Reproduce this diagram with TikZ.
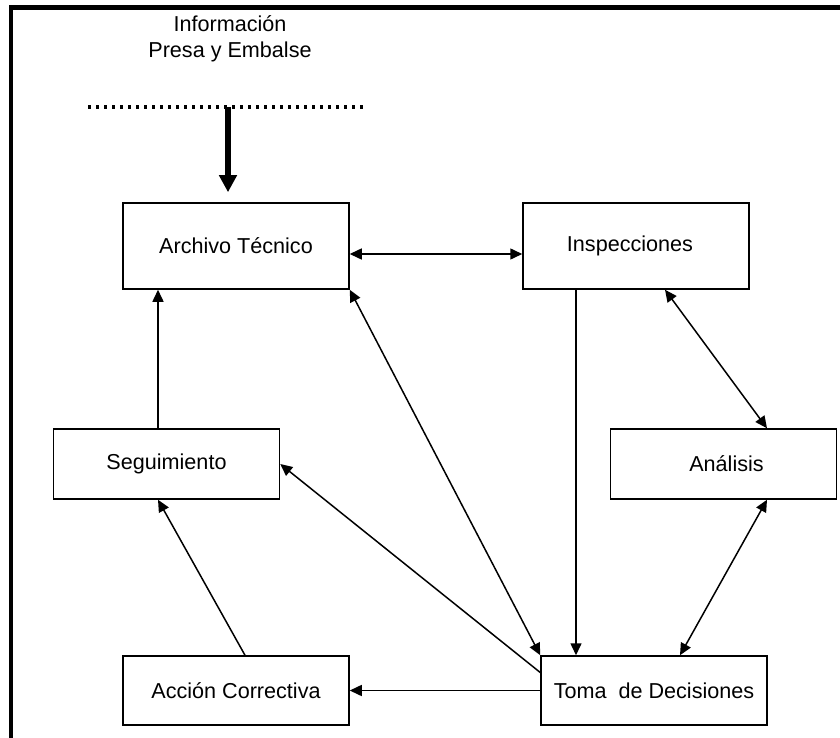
\documentclass[tikz,border=0pt]{standalone}
\usepackage{fontspec}
\setmainfont{Liberation Sans}
\usetikzlibrary{arrows.meta}
\begin{document}
\begin{tikzpicture}[x=1pt,y=-1pt,
  >={Triangle[length=12pt,width=11pt]},
  box/.style={draw,line width=1.5pt,inner sep=0pt,minimum width=226pt,font=\fontsize{21.6}{25}\selectfont},
  link/.style={line width=1.5pt},
  feedline/.style={line width=4pt,dash pattern=on 3pt off 5pt}]
\useasboundingbox (0,0) rectangle (840,738);
\fill (9,5) rectangle (840,10);
\fill (9,5) rectangle (13,738);

\node[align=center,font=\fontsize{21.6}{26}\selectfont] (info) at (230,39) {Información\\Presa y Embalse};
\coordinate (dotl) at (88,107);
\coordinate (dotr) at (363,107);
\coordinate (feed) at (228,107);
\draw[feedline] (dotl) -- (dotr);

\node[box,minimum height=86pt] (archivo) at (236,246) {Archivo Técnico};
\node[box,minimum height=86pt] (insp) at (636,246) {\hspace*{-12pt}Inspecciones};
\node[box,minimum height=70pt] (seguim) at (166.5,464) {Seguimiento};
\node[box,minimum height=70pt] (analisis) at (723.5,464) {\hspace*{6pt}Análisis};
\node[box,minimum height=69pt] (accion) at (236,690.5) {Acción Correctiva};
\node[box,minimum height=69pt] (toma) at (654,690.5) {Toma\ \ de Decisiones};

\draw[-{Triangle[length=17pt,width=17pt]},line width=6pt,shorten >=10pt] (feed) -- (archivo.north -| feed);
\draw[link,<->] ([yshift=-8pt]archivo.east) -- ([yshift=-8pt]insp.west);
\draw[link,->] ([xshift=-60pt]insp.south) -- ([xshift=-78pt]toma.north);
\draw[link,<->] ([xshift=29pt]insp.south) -- ([xshift=43.5pt]analisis.north);
\draw[link,<->] ([xshift=43.5pt]analisis.south) -- ([xshift=26pt]toma.north);
\draw[link,<->] (archivo.south east) -- (toma.north west);
\draw[link,->] ([yshift=18pt]toma.west) -- (seguim.east);
\draw[link,->] (toma.west) -- (accion.east);
\draw[link,->] ([xshift=9pt]accion.north) -- ([xshift=-8.5pt]seguim.south);
\draw[link,->] ([xshift=-8.5pt]seguim.north) -- ([xshift=-78pt]archivo.south);
\end{tikzpicture}
\end{document}
